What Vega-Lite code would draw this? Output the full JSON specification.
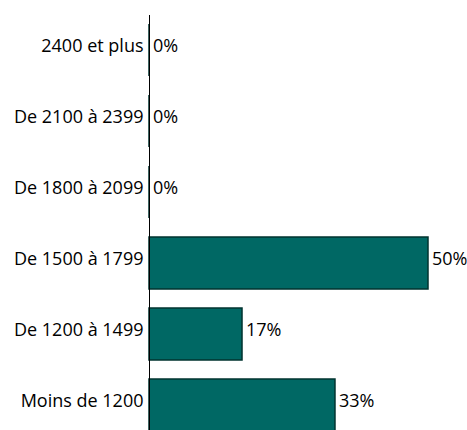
{
  "$schema": "https://vega.github.io/schema/vega-lite/v6.json",
  "autosize": "none",
  "width": 279,
  "height": 416,
  "padding": {"left": 149, "top": 14.5, "right": 39, "bottom": 0},
  "background": "white",
  "config": {"view": {"stroke": null}, "font": "Open Sans"},
  "data": {
    "values": [
      {"tranche": "2400 et plus", "part": 0},
      {"tranche": "De 2100 à 2399", "part": 0},
      {"tranche": "De 1800 à 2099", "part": 0},
      {"tranche": "De 1500 à 1799", "part": 0.5},
      {"tranche": "De 1200 à 1499", "part": 0.1667},
      {"tranche": "Moins de 1200", "part": 0.3333}
    ]
  },
  "encoding": {
    "y": {
      "field": "tranche",
      "type": "nominal",
      "sort": null,
      "scale": {"range": [0, 426], "paddingInner": 0.2676, "paddingOuter": 0.1338},
      "axis": {
        "title": null,
        "ticks": false,
        "domainColor": "black",
        "domainWidth": 1,
        "labelFontSize": 18,
        "labelColor": "black",
        "labelPadding": 6,
        "labelOffset": -3,
        "labelFont": "Open Sans",
        "zindex": 1
      }
    },
    "x": {
      "field": "part",
      "type": "quantitative",
      "scale": {"domain": [0, 0.5], "nice": false},
      "axis": null
    }
  },
  "layer": [
    {
      "mark": {"type": "bar", "color": "#006864", "stroke": "#00332f", "strokeWidth": 1.5, "cornerRadius": 0}
    },
    {
      "mark": {"type": "text", "align": "left", "baseline": "middle", "dx": 4, "dy": -3, "fontSize": 18, "color": "black", "font": "Open Sans"},
      "encoding": {"text": {"field": "part", "type": "quantitative", "format": ".0%"}}
    }
  ]
}
